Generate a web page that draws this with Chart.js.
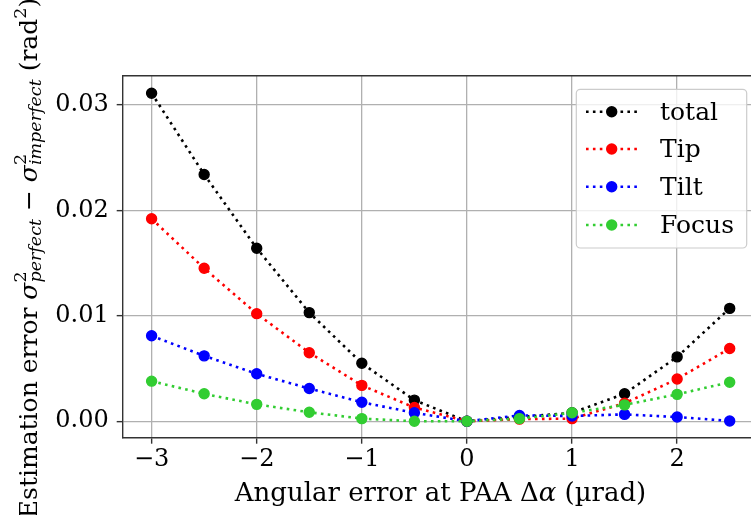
<!DOCTYPE html>
<html>
<head>
<meta charset="utf-8">
<script src="https://cdn.jsdelivr.net/npm/chart.js@4.4.0/dist/chart.umd.min.js"></script>
<style>
  html, body { margin:0; padding:0; background:#fff; overflow:hidden; }
  #wrap { width:765px; height:515px; position:relative; }
</style>
</head>
<body>
<div id="wrap"><canvas id="chart"></canvas></div>
<script>
'use strict';
// ── data ─────────────────────────────────────────────────
const alphaErr = [-3, -2.5, -2, -1.5, -1, -0.5, 0, 0.5, 1, 1.5, 2, 2.5];
const totalErr = [0.0311, 0.0234, 0.0164, 0.0103, 0.0055, 0.0020, 0, 0.0004, 0.0008, 0.0026, 0.0061, 0.0107];
const tipErr   = [0.0192, 0.0145, 0.0102, 0.0065, 0.0034, 0.0013, 0, 0.0002, 0.00025, 0.0017, 0.0040, 0.0069];
const tiltErr  = [0.0081, 0.0062, 0.0045, 0.0031, 0.0018, 0.0008, 0, 0.00055, 0.0005, 0.00065, 0.0004, 0.00003];
const focusErr = [0.0038, 0.0026, 0.0016, 0.00085, 0.00025, 0.0000, 0, 0.00025, 0.0008, 0.00155, 0.00255, 0.0037];
const seriesNames  = ['total', 'Tip', 'Tilt', 'Focus'];
const seriesColors = ['#000000', '#ff0000', '#0000ff', '#32cd32'];
const xTicks = [-3, -2, -1, 0, 1, 2];
const yTicks = [0, 0.01, 0.02, 0.03];

const FONT = '"DejaVu Serif", serif';
const GRID = '#b0b0b0', SPINE = '#333333';

const build = (vals, i) => ({
  label: seriesNames[i],
  data: alphaErr.map((x, k) => ({ x, y: vals[k] })),
  borderColor: seriesColors[i],
  backgroundColor: seriesColors[i],
  pointBackgroundColor: seriesColors[i],
  pointBorderColor: seriesColors[i],
  borderWidth: 2.6, borderDash: [2.6, 4.3],
  pointRadius: 5, pointBorderWidth: 1.4, pointHoverRadius: 5,
  tension: 0, order: 4 - i,
});

// ── frame, axis labels & legend ─────────────────────────
const decor = {
  id: 'decor',
  afterDraw(chart) {
    const { ctx, chartArea: a } = chart;
    ctx.save();
    ctx.strokeStyle = SPINE; ctx.lineWidth = 1.4;
    ctx.beginPath();
    ctx.moveTo(a.left, a.top); ctx.lineTo(a.right, a.top); ctx.lineTo(a.right, a.bottom);
    ctx.stroke();

    // x label
    ctx.fillStyle = '#000'; ctx.textBaseline = 'alphabetic';
    const xParts = [['Angular error at PAA Δ', ''], ['α', 'italic '], [' (µrad)', '']];
    drawRun(ctx, xParts.map(p => ({ t: p[0], font: p[1] + '26px ' + FONT, dy: 0 })), 440.5, 501);

    // y label (rotated)
    const big = '25px ' + FONT, it = 'italic 25px ' + FONT;
    const sm = '17.5px ' + FONT, smIt = 'italic 17.5px ' + FONT;
    const yParts = [
      { t: 'Estimation error ', font: big, dy: 0 },
      { t: 'σ', font: it, dy: 0 },
      { stack: [{ t: '2', font: sm, dy: -11 }, { t: 'perfect', font: smIt, dy: 4 }] },
      { t: ' − ', font: big, dy: 0 },
      { t: 'σ', font: it, dy: 0 },
      { stack: [{ t: '2', font: sm, dy: -11 }, { t: 'imperfect', font: smIt, dy: 4 }] },
      { t: ' (rad', font: big, dy: 0 },
      { t: '2', font: sm, dy: -11 },
      { t: ')', font: big, dy: 0 },
    ];
    ctx.save();
    ctx.translate(37, 258);
    ctx.rotate(-Math.PI / 2);
    drawRun(ctx, yParts, 0, 0);
    ctx.restore();

    // legend
    const bx = 576.3, by = 89.3, bw = 170.4, bh = 158.7;
    ctx.fillStyle = 'rgba(255,255,255,0.8)';
    ctx.strokeStyle = '#cccccc'; ctx.lineWidth = 1.2;
    ctx.beginPath(); ctx.roundRect(bx, by, bw, bh, 4); ctx.fill(); ctx.stroke();
    const rows = [111.7, 149, 186.7, 225];
    chart.data.datasets.forEach((ds, i) => {
      const y = rows[i];
      ctx.strokeStyle = ds.borderColor; ctx.lineWidth = 2.6;
      ctx.setLineDash([2.6, 4.3]);
      ctx.beginPath(); ctx.moveTo(586, y); ctx.lineTo(638.3, y); ctx.stroke();
      ctx.setLineDash([]);
      ctx.fillStyle = ds.borderColor;
      ctx.beginPath(); ctx.arc(611.7, y, 5.7, 0, Math.PI * 2); ctx.fill();
      ctx.fillStyle = '#000'; ctx.font = '25px ' + FONT; ctx.textAlign = 'left';
      ctx.fillText(ds.label, 660, y + 8);
    });
    ctx.restore();
  }
};

// draws a run of text pieces centred on cx; a "stack" piece puts sup & sub at the same x
function drawRun(ctx, parts, cx, y) {
  const w = p => {
    if (p.stack) return Math.max(...p.stack.map(q => { ctx.font = q.font; return ctx.measureText(q.t).width; }));
    ctx.font = p.font; return ctx.measureText(p.t).width;
  };
  const total = parts.reduce((s, p) => s + w(p), 0);
  let x = cx - total / 2;
  ctx.textAlign = 'left';
  parts.forEach(p => {
    const pw = w(p);
    (p.stack || [p]).forEach(q => { ctx.font = q.font; ctx.fillText(q.t, x, y + q.dy); });
    x += pw;
  });
}

// ── chart ────────────────────────────────────────────────
new Chart(document.getElementById('chart'), {
  type: 'line',
  data: { datasets: [totalErr, tipErr, tiltErr, focusErr].map(build) },
  options: {
    responsive: true, maintainAspectRatio: false, animation: false,
    devicePixelRatio: 1,
    layout: { padding: { top: 75.7, right: 5.2, left: 0, bottom: 0 } },
    plugins: { legend: { display: false }, tooltip: { enabled: false } },
    scales: {
      x: {
        type: 'linear', min: -3.275, max: 2.775,
        afterBuildTicks: s => { s.ticks = xTicks.map(v => ({ value: v })); },
        afterFit: s => { s.height = 77.3; },
        grid: { color: GRID, lineWidth: 1.3, tickColor: SPINE, tickWidth: 1.4, tickLength: 6 },
        border: { color: SPINE, width: 1.4 },
        ticks: {
          padding: 2, color: '#000', maxRotation: 0,
          font: { family: FONT, size: 24 },
          callback: v => v < 0 ? '\u2212' + Math.abs(v) : String(v),
        },
      },
      y: {
        type: 'linear', min: -0.00156, max: 0.03276,
        afterBuildTicks: s => { s.ticks = yTicks.map(v => ({ value: v })); },
        afterFit: s => { s.width = 122.7; },
        grid: { color: GRID, lineWidth: 1.3, tickColor: SPINE, tickWidth: 1.4, tickLength: 6 },
        border: { color: SPINE, width: 1.4 },
        ticks: {
          padding: 8, color: '#000',
          font: { family: FONT, size: 24 },
          callback: v => v.toFixed(2),
        },
      },
    },
  },
  plugins: [decor],
});
</script>
</body>
</html>
